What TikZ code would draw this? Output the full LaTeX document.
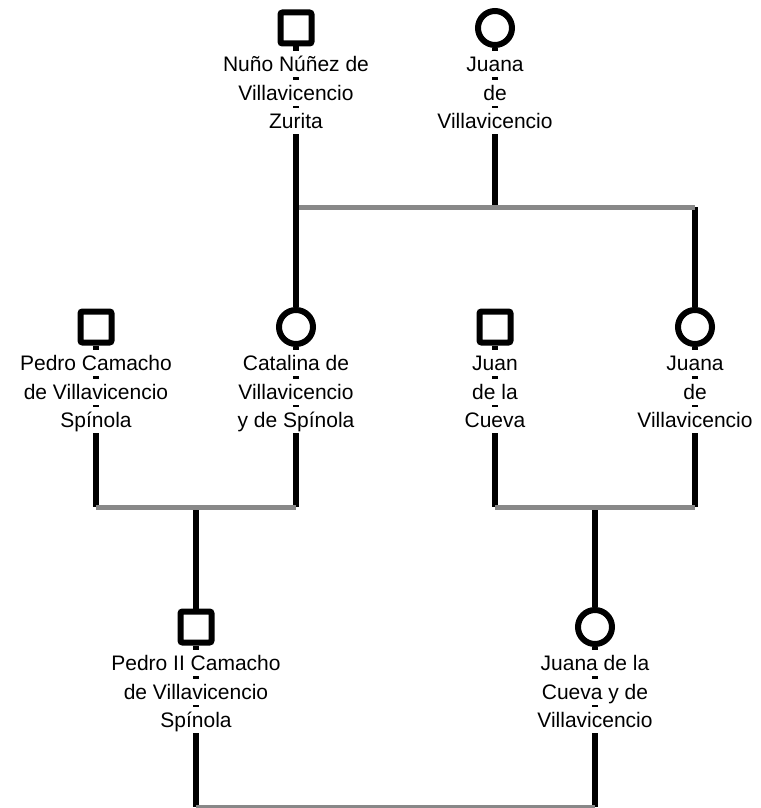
\documentclass[tikz,border=0pt]{standalone}
\usepackage{fontspec}
\setmainfont{Liberation Sans}
\definecolor{bargray}{HTML}{888888}
\newcommand{\lin}[1]{{\setlength{\fboxsep}{1pt}\colorbox{white}{\rule[-4.5pt]{0pt}{24pt}#1}}}

\begin{document}
\begin{tikzpicture}[
  x=1pt, y=-1pt,
  male/.style={draw, line width=6pt, rectangle, rounded corners=2pt, minimum size=31pt, inner sep=0pt},
  female/.style={draw, line width=6pt, circle, minimum size=34pt, inner sep=0pt},
  kin/.style={draw, line width=6pt},
  couple/.style={draw, bargray, line width=5pt},
  person label/.style={anchor=north, inner sep=0pt, align=center, font=\fontsize{21}{28.5}\selectfont}
]
\useasboundingbox (0,0) rectangle (760,808);

% Personas
\node[male]   (nuno)     at (296,28)  {};
\node[female] (juanaA)   at (495,28)  {};
\node[male]   (pedro)    at (96,327)  {};
\node[female] (catalina) at (296,327) {};
\node[male]   (juan)     at (495,327) {};
\node[female] (juanaB)   at (695,327) {};
\node[male]   (pedroII)  at (196,627) {};
\node[female] (juanaC)   at (595,627) {};

% Uniones
\coordinate (barAl) at (296,207);
\coordinate (barAr) at (695,207);
\coordinate (barBl) at (96,507);
\coordinate (barBr) at (296,507);
\coordinate (barBm) at (196,507);
\coordinate (barCl) at (495,507);
\coordinate (barCr) at (695,507);
\coordinate (barCm) at (595,507);
\coordinate (barDl) at (196,807);
\coordinate (barDr) at (595,807);

\draw[kin] (juanaA) -- (juanaA |- barAl);
\draw[kin] (barAr) -- (juanaB);
\draw[kin] (pedro) -- (pedro |- barBl);
\draw[kin] (catalina) -- (catalina |- barBr);
\draw[kin] (juan) -- (juan |- barCl);
\draw[kin] (juanaB) -- (juanaB |- barCr);
\draw[kin] (barBm) -- (pedroII);
\draw[kin] (barCm) -- (juanaC);
\draw[kin] (pedroII) -- (pedroII |- barDl);
\draw[kin] (juanaC) -- (juanaC |- barDr);

\draw[couple] (barAl) -- (barAr);
\draw[couple] (barBl) -- (barBr);
\draw[couple] (barCl) -- (barCr);
\draw[couple] (barDl) -- (barDr);
\draw[kin] (nuno) -- (catalina);

% Nombres
\node[person label] (nuno-lbl)     at ([yshift=-23pt]nuno)     {\lin{Nuño Núñez de}\\\lin{Villavicencio}\\\lin{Zurita}};
\node[person label] (juanaA-lbl)   at ([yshift=-23pt]juanaA)   {\lin{Juana}\\\lin{de}\\\lin{Villavicencio}};
\node[person label] (pedro-lbl)    at ([yshift=-23pt]pedro)    {\lin{Pedro Camacho}\\\lin{de Villavicencio}\\\lin{Spínola}};
\node[person label] (catalina-lbl) at ([yshift=-23pt]catalina) {\lin{Catalina de}\\\lin{Villavicencio}\\\lin{y de Spínola}};
\node[person label] (juan-lbl)     at ([yshift=-23pt]juan)     {\lin{Juan}\\\lin{de la}\\\lin{Cueva}};
\node[person label] (juanaB-lbl)   at ([yshift=-23pt]juanaB)   {\lin{Juana}\\\lin{de}\\\lin{Villavicencio}};
\node[person label] (pedroII-lbl)  at ([yshift=-23pt]pedroII)  {\lin{Pedro II Camacho}\\\lin{de Villavicencio}\\\lin{Spínola}};
\node[person label] (juanaC-lbl)   at ([yshift=-23pt]juanaC)   {\lin{Juana de la}\\\lin{Cueva y de}\\\lin{Villavicencio}};

\end{tikzpicture}
\end{document}
